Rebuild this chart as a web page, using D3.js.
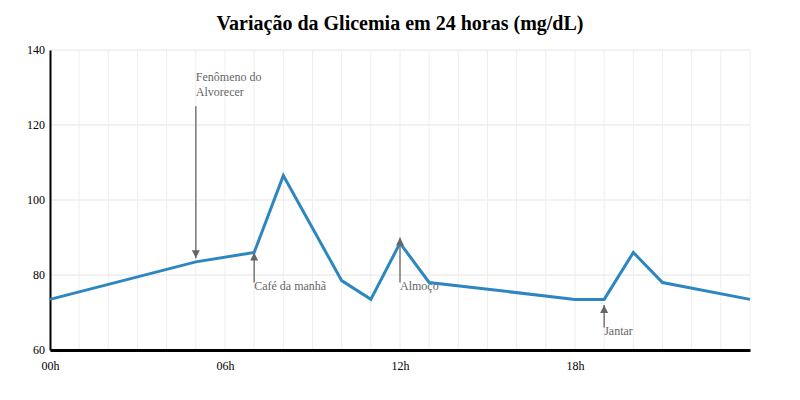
<!DOCTYPE html>
<html><head><meta charset="utf-8">
<script src="https://cdn.jsdelivr.net/npm/d3@7"></script>
<style>
body{margin:0;background:#fff;}
svg, svg text{font-family:"Liberation Serif","Times New Roman",serif;}
</style></head>
<body><svg id="c" width="800" height="400"></svg>
<script>
const hours = [0, 5, 7, 8, 10, 11, 12, 13, 18, 19, 20, 21, 24];
const glucose = [73.5, 83.5, 86, 106.5, 78.5, 73.5, 88.5, 78, 73.5, 73.5, 86, 78, 73.5];
const xTicks = [0, 6, 12, 18];
const xTickLabels = ["00h", "06h", "12h", "18h"];
const yTicks = [60, 80, 100, 120, 140];
const title = "Variação da Glicemia em 24 horas (mg/dL)";
const annotations = [
  {hour: 5, lines: ["Fenômeno do", "Alvorecer"], from: 125, to: 84.5, dir: "down"},
  {hour: 7, lines: ["Café da manhã"], from: 78, to: 86, dir: "up"},
  {hour: 12, lines: ["Almoço"], from: 78, to: 90, dir: "up"},
  {hour: 19, lines: ["Jantar"], from: 66, to: 72, dir: "up"}
];

const svg = d3.select("#c");
const m = {l:50, r:50, t:50, b:50};
const W = 800, H = 400;
const x = d3.scaleLinear().domain([0,24]).range([m.l, W-m.r]);
const y = d3.scaleLinear().domain([60,140]).range([H-m.b, m.t]);

// grid
svg.append("g").selectAll("line").data(d3.range(1,25)).join("line")
  .attr("x1", d=>x(d)).attr("x2", d=>x(d)).attr("y1", y(140)).attr("y2", y(60))
  .attr("stroke", "#eeeeee").attr("stroke-width", 1);
svg.append("g").selectAll("line").data(yTicks.slice(1)).join("line")
  .attr("x1", x(0)).attr("x2", x(24)).attr("y1", d=>y(d)).attr("y2", d=>y(d))
  .attr("stroke", "#eeeeee").attr("stroke-width", 1.5);

// title
svg.append("text").attr("x", W/2).attr("y", 30).attr("text-anchor","middle")
  .attr("font-size", 20).attr("font-weight","bold").text(title);

// axes
const yAx = svg.append("g").attr("transform", `translate(${x(0)},0)`)
  .call(d3.axisLeft(y).tickValues(yTicks).tickSize(0).tickPadding(5));
yAx.attr("font-family", "Liberation Serif");
yAx.select(".domain").attr("stroke","#000").attr("stroke-width",2);
yAx.selectAll("text").attr("font-size",12).attr("fill","#000");

const xAx = svg.append("g").attr("transform", `translate(0,${y(60)})`)
  .call(d3.axisBottom(x).tickValues(xTicks).tickFormat((d,i)=>xTickLabels[i]).tickSize(0).tickPadding(11));
xAx.attr("font-family", "Liberation Serif");
xAx.select(".domain").attr("stroke","#000").attr("stroke-width",3);
xAx.selectAll("text").attr("font-size",12).attr("fill","#000");

// line
const data = hours.map((h,i)=>({h, v: glucose[i]}));
svg.append("path").datum(data)
  .attr("fill","none").attr("stroke","#2e86c1").attr("stroke-width",3)
  .attr("stroke-linejoin","miter")
  .attr("d", d3.line().x(d=>x(d.h)).y(d=>y(d.v)));

// arrow marker
svg.append("defs").append("marker").attr("id","arr")
  .attr("viewBox","0 0 10 10").attr("refX",10).attr("refY",5)
  .attr("markerWidth",8).attr("markerHeight",8).attr("orient","auto-start-reverse")
  .attr("markerUnits","userSpaceOnUse")
  .append("path").attr("d","M0,0 L10,5 L0,10 z").attr("fill","#666");

annotations.forEach(a=>{
  svg.append("line").attr("x1", x(a.hour)).attr("x2", x(a.hour))
    .attr("y1", y(a.from)).attr("y2", y(a.to))
    .attr("stroke","#777").attr("stroke-width",1.5).attr("marker-end","url(#arr)");
  const t = svg.append("text").attr("fill","#666").attr("font-size",12);
  if (a.dir === "down") {
    a.lines.forEach((ln,i)=>{
      t.append("tspan").attr("x", x(a.hour)).attr("y", y(a.from) - 25 + i*15).text(ln);
    });
  } else {
    t.append("tspan").attr("x", x(a.hour)).attr("y", y(a.from) + 7).text(a.lines[0]);
  }
});
</script></body></html>
